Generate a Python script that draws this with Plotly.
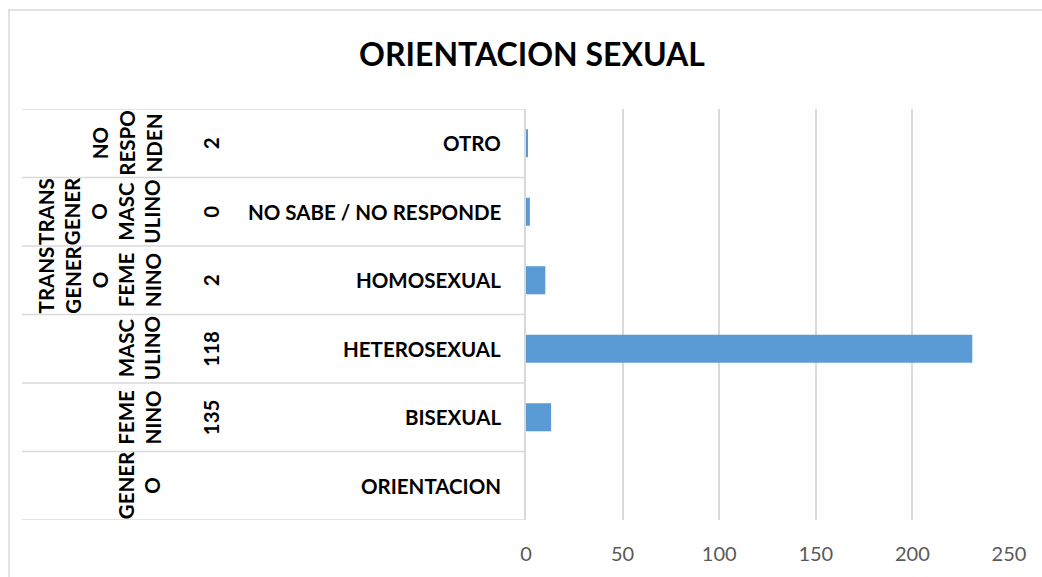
import plotly.graph_objects as go

# datos
orientacion = ["ORIENTACION", "BISEXUAL", "HETEROSEXUAL", "HOMOSEXUAL",
               "NO SABE / NO RESPONDE", "OTRO"]
valores = [None, 13, 231, 10, 2, 1]
conteo = ["", "135", "118", "2", "0", "2"]
genero = ["GENER<br>O", "FEME<br>NINO", "MASC<br>ULINO",
          "TRANS<br>GENER<br>O<br>FEME<br>NINO",
          "TRANS<br>GENER<br>O<br>MASC<br>ULINO",
          "NO<br>RESPO<br>NDEN"]
ticks_x = [0, 50, 100, 150, 200, 250]

FONT = "Lato"
W, H = 1042, 577
L, R, T, B = 526, 1009, 109, 520   # area de trazado en pixeles


def px_x(p):
    return (p - L) / (R - L)


def px_y(p):
    return (B - p) / (B - T)


fig = go.Figure(go.Bar(
    x=valores, y=orientacion, orientation="h",
    marker=dict(color="#5b9bd5", line=dict(width=0)),
    hoverinfo="x+y",
))

fig.update_layout(
    width=W, height=H,
    margin=dict(l=L, r=W - R, t=T, b=H - B),
    paper_bgcolor="white", plot_bgcolor="white",
    bargap=0.59, showlegend=False,
    font=dict(family=FONT),
    title=dict(text="<b>ORIENTACION SEXUAL</b>", x=532 / W, xanchor="center",
               y=1 - 55 / H, yanchor="middle",
               font=dict(family=FONT, size=32, color="black")),
)
fig.update_xaxes(range=[0, 250], tickvals=ticks_x, showgrid=True,
                 gridcolor="#d9d9d9", gridwidth=1.5, zeroline=False,
                 showline=False, ticks="", ticklabelstandoff=20,
                 tickfont=dict(family=FONT, size=20, color="#595959"))
fig.update_yaxes(type="category", categoryarray=orientacion, range=[-0.5, 5.5],
                 showticklabels=False, showgrid=False, zeroline=False,
                 showline=True, linecolor="#d9d9d9", linewidth=1.5, ticks="")

# separadores de la tabla de categorias
for i in range(len(orientacion) + 1):
    fig.add_shape(type="line", xref="paper", yref="y",
                  x0=px_x(22), x1=0, y0=i - 0.5, y1=i - 0.5,
                  line=dict(color="#d9d9d9", width=1.5))

# etiquetas de los niveles
for i, (o, c, g) in enumerate(zip(orientacion, conteo, genero)):
    fig.add_annotation(x=px_x(503), y=o, xref="paper", yref="y", text=f"<b>{o}</b>",
                       showarrow=False, xanchor="right", yanchor="middle",
                       font=dict(family=FONT, size=20.5, color="black"))
    if c:
        fig.add_annotation(x=px_x(211), y=o, xref="paper", yref="y", text=f"<b>{c}</b>",
                           showarrow=False, xanchor="center", yanchor="middle",
                           textangle=-90,
                           font=dict(family=FONT, size=20.5, color="black"))
    fig.add_annotation(x=px_x(167), y=o, xref="paper", yref="y", text=f"<b>{g}</b>",
                       showarrow=False, xanchor="right", yanchor="middle",
                       textangle=-90, align="center",
                       font=dict(family=FONT, size=20.5, color="black"))

# borde del grafico
fig.add_shape(type="rect", xref="paper", yref="paper",
              x0=px_x(9), x1=px_x(1070), y0=px_y(600), y1=px_y(10),
              line=dict(color="#d9d9d9", width=1.5), layer="below")

fig.write_html("out.html", config={"displayModeBar": False},
               post_script="document.body.style.margin='0';document.body.style.overflow='hidden';")
